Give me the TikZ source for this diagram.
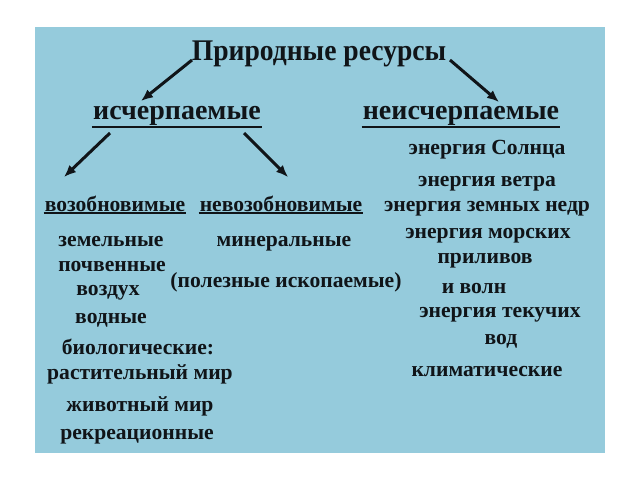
\documentclass[tikz,border=0pt]{standalone}
\usepackage{fontspec}
\setmainfont{Liberation Serif}
\usepackage{xcolor}
\usetikzlibrary{arrows.meta,positioning,calc}
\definecolor{SkyBack}{HTML}{95CBDC}
\definecolor{InkDark}{HTML}{101418}

\begin{document}
\begin{tikzpicture}[
  x=1pt,y=-1pt,
  head/.style={font=\fontsize{30}{32}\selectfont\bfseries,text=InkDark,inner sep=1pt},
  kind/.style={font=\fontsize{28}{30}\selectfont\bfseries,text=InkDark,inner sep=1pt},
  sub/.style={font=\fontsize{21.6}{24}\selectfont\bfseries,text=InkDark,inner sep=1pt},
  item/.style={font=\fontsize{21.6}{24}\selectfont\bfseries,text=InkDark,inner sep=1pt},
  uline/.style={line width=2pt,draw=InkDark},
  arr/.style={-{Latex[length=12pt,width=10pt]},line width=3pt,draw=InkDark}
]
\useasboundingbox (0,0) rectangle (640,480);
\fill[SkyBack] (35,27) rectangle (605,453);
% headings
\node[head,xscale=0.92] (title) at (319,54) {Природные ресурсы};
\node[kind] (isch) at (177,116) {исчерпаемые};
\node[kind] (neisch) at (461,116) {неисчерпаемые};
\node[sub] (vozob) at (115,204) {возобновимые};
\node[sub] (nevozob) at (281,204) {невозобновимые};
% underlines
\draw[uline] (isch.south west) -- (isch.south east);
\draw[uline] (neisch.south west) -- (neisch.south east);
\draw[uline] (vozob.south west) -- (vozob.south east);
\draw[uline] (nevozob.south west) -- (nevozob.south east);
% renewable
\node[item] (zem) at (111,242) {земельные};
\node[item] (pochv) at (112,267) {почвенные};
\node[item] (vozd) at (108,293) {воздух};
\node[item] (vodn) at (111,320) {водные};
\node[item] (bio) at (138,347) {биологические:};
\node[item] (rast) at (140,374) {растительный мир};
\node[item] (zhiv) at (140,406) {животный мир};
\node[item] (rekr) at (137,437) {рекреационные};
% non-renewable
\node[item] (miner) at (284,244) {минеральные};
\node[item] (polez) at (286,282) {(полезные ископаемые)};
% inexhaustible
\node[item] (solnce) at (487,150) {энергия Солнца};
\node[item] (veter) at (487,184) {энергия ветра};
\node[item] (nedra) at (487,209) {энергия земных недр};
\node[item] (more) at (488,236) {энергия морских};
\node[item] (priliv) at (485,261) {приливов};
\node[item] (voln) at (474,289) {и волн};
\node[item] (tekuch) at (500,315) {энергия текучих};
\node[item] (vod) at (501,341) {вод};
\node[item] (klimat) at (487,372) {климатические};
% arrows
\draw[arr] ($(title)+(-127,6)$) -- ($(isch)+(-36,-15)$);
\draw[arr] ($(title)+(131,6)$) -- ($(neisch)+(38,-14)$);
\draw[arr] ($(isch)+(-67,17)$) -- ($(vozob)+(-51,-27)$);
\draw[arr] ($(isch)+(67,17)$) -- ($(nevozob)+(7,-27)$);
\end{tikzpicture}
\end{document}
